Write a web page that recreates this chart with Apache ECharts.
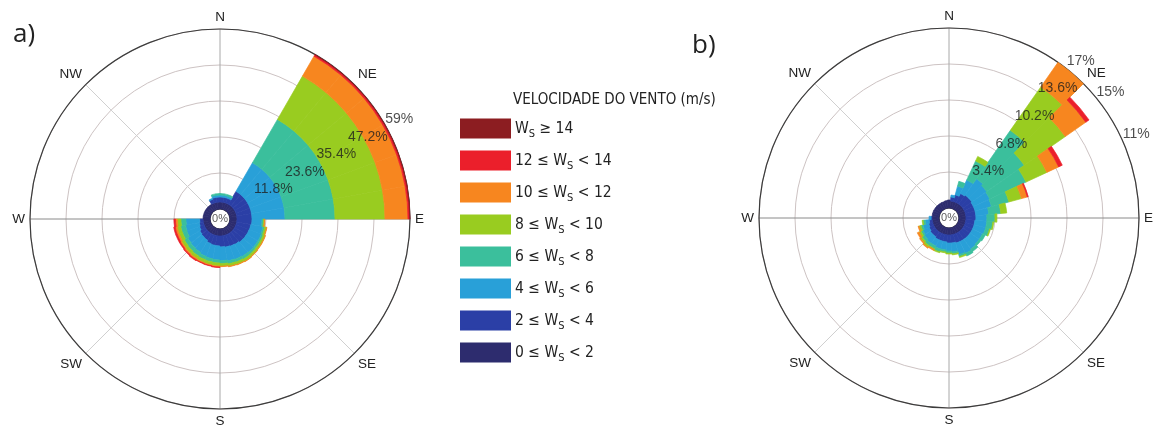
<!DOCTYPE html>
<html><head><meta charset="utf-8">
<script src="https://cdn.jsdelivr.net/npm/echarts@6/dist/echarts.min.js"></script>
<style>html,body{margin:0;padding:0;background:#fff}#c{width:1156px;height:427px}</style>
</head><body><div id="c"></div>
<script>
// ---------- data ----------
const directionLabels = ['N','NE','E','SE','S','SW','W','NW'];
const speedClasses = ['0 ≤ Ws < 2','2 ≤ Ws < 4','4 ≤ Ws < 6','6 ≤ Ws < 8','8 ≤ Ws < 10','10 ≤ Ws < 12','12 ≤ Ws < 14','Ws ≥ 14'];
const speedColors = ['#2d2c6e','#2b3fa6','#29a0d8','#3bbf9c','#99cc20','#f7861f','#eb1f2b','#8c1d21'];
const sectorNames = ['0','10','20','30','40','50','60','70','80','90','100','110','120','130','140','150','160','170','180','190','200','210','220','230','240','250','260','270','280','290','300','310','320','330','340','350'];

// chart a) frequency (%) per 10-degree sector, one array per speed class
const navyA   = [2.29,2.29,2.29,2.29,2.29,2.29,2.29,2.29,2.29,2.29,2.29,2.29,2.29,2.29,2.29,2.29,2.29,2.29,2.29,2.29,2.29,2.29,2.29,2.29,2.29,2.29,2.29,2.29,2.29,2.29,2.29,2.29,2.29,2.29,2.29,2.29];
const dblueA  = [1.64,1.64,1.64,4.92,4.92,4.92,4.92,4.92,4.92,4.92,4.70,4.59,4.50,4.40,4.10,3.94,3.80,3.60,3.28,3.20,3.00,2.50,2.30,2.10,1.60,1.32,1.10,0,0,0,0,0,0,1.31,1.64,1.64];
const mblueA  = [0.66,0.66,0.66,10.82,10.82,10.82,10.82,10.82,10.82,3.28,4.00,4.27,4.30,4.40,4.59,4.59,4.59,4.50,4.59,4.50,4.50,4.59,4.59,4.59,4.40,4.58,4.50,0,0,0,0,0,0,0.33,0.66,0.66];
const tealA   = [0.49,0.49,0.49,16.39,16.39,16.39,16.39,16.39,16.39,0.49,0.60,0.65,0.70,0.80,0.98,0.98,0.98,0.98,0.99,0.99,1.10,1.31,1.31,1.31,1.50,1.64,1.64,0,0,0,0,0,0,0,0.49,0.49];
const greenA  = [0,0,0,16.38,16.38,16.38,16.38,16.38,16.38,0.33,0.60,0.66,0.70,0.75,0.82,0.82,0.82,0.82,0.98,0.98,0.98,0.98,0.98,0.98,1.15,1.15,1.15,0,0,0,0,0,0,0,0,0];
const orangeA = [0,0,0,7.54,7.54,7.54,7.54,7.54,7.54,0.16,0.16,0.16,0.16,0.16,0.16,0.16,0.16,0.16,0.33,0.33,0.33,0.49,0.49,0.49,0.66,0.66,0.66,0,0,0,0,0,0,0,0,0];
const redA    = [0,0,0,0.56,0.56,0.56,0.56,0.56,0.56,0,0,0,0,0,0,0,0,0,0.16,0.16,0.16,0.33,0.33,0.33,0.49,0.49,0.49,0,0,0,0,0,0,0,0,0];
const dredA   = [0,0,0,0.10,0.10,0.10,0.10,0.10,0.10,0,0,0,0,0,0,0,0,0,0,0,0,0,0,0,0,0,0,0,0,0,0,0,0,0,0,0];

// chart b) frequency (%) per 10-degree sector (centred on multiples of 10 degrees)
const navyB   = [0.76,0.66,0.66,0.66,0.66,0.66,0.66,0.66,0.66,0.66,0.66,0.66,0.66,0.66,0.66,0.66,0.66,0.66,0.66,0.66,0.66,0.66,0.66,0.66,0.66,0.66,0.66,0.66,0.66,0.66,0.66,0.66,0.66,0.66,0.66,0.71];
const dblueB  = [0,0.38,0.66,0.94,1.04,1.04,0.94,0.94,0.94,0.94,0.85,0.85,0.85,0.85,0.85,0.85,0.85,0.76,0.76,0.66,0.66,0.66,0.57,0.57,0.47,0.38,0.28,0.09,0,0,0,0,0,0,0,0];
const mblueB  = [0,0.19,0.85,1.42,1.89,1.70,1.70,1.61,1.23,1.04,1.13,1.13,1.04,1.04,1.13,1.23,1.13,0.85,0.76,0.76,0.76,0.66,0.76,0.66,0.66,0.57,0.38,0.19,0,0,0,0,0,0,0,0];
const tealB   = [0,0,0.47,1.98,5.57,4.34,3.78,1.70,1.13,0.76,0.57,0.38,0.28,0.19,0.28,0.28,0.19,0.19,0.19,0.19,0.28,0.28,0.28,0.28,0.19,0.19,0.19,0,0,0,0,0,0,0,0,0];
const greenB  = [0,0,0,0.47,5.01,4.72,2.17,1.23,0.57,0.19,0.09,0.09,0,0,0,0,0.09,0.09,0.09,0.09,0.09,0.09,0.19,0.19,0.19,0.19,0.09,0,0,0,0,0,0,0,0,0];
const orangeB = [0,0,0,0,2.83,2.36,1.23,0.57,0,0,0,0,0,0,0,0,0,0,0,0,0,0.09,0.09,0.09,0.19,0.09,0,0,0,0,0,0,0,0,0,0];
const redB    = [0,0,0,0,0,0.38,0.38,0.09,0,0,0,0,0,0,0,0,0,0,0,0,0,0,0,0,0,0,0,0,0,0,0,0,0,0,0,0];
const dredB   = [0,0,0,0,0,0,0,0,0,0,0,0,0,0,0,0,0,0,0,0,0,0,0,0,0,0,0,0,0,0,0,0,0,0,0,0];

// radial ring labels
const ringValuesA = [0, 11.8, 23.6, 35.4, 47.2, 59];
const ringValuesB = [0, 3.4, 6.8, 10.2, 13.6, 17];
const extraLabelsB = [[17, 52, '15%'], [17, 66, '11%']];

// ---------- layout ----------
const centerA = [220, 219], centerB = [949, 218];
const ringRadius = [10, 190];
const labelAngleA = 61, labelAngleB = 40;
const NARROW = '"Liberation Sans Narrow","Arial Narrow","DejaVu Sans Condensed",sans-serif';
const SANS = '"Liberation Sans",Arial,sans-serif';

const seriesA = [navyA, dblueA, mblueA, tealA, greenA, orangeA, redA, dredA];
const seriesB = [navyB, dblueB, mblueB, tealB, greenB, orangeB, redB, dredB];

function gridAxes(polarIndex, maxR, step) {
  return {
    angle: {
      polarIndex, type: 'value', min: 0, max: 360, interval: 45, startAngle: 90, clockwise: true,
      axisLine: {show: true, lineStyle: {color: '#3c3c3c', width: 1.2}},
      axisTick: {show: false},
      axisLabel: {show: true, margin: 5, fontSize: 13.5, color: '#222', fontFamily: SANS,
        formatter: v => directionLabels[Math.round(v / 45) % 8]},
      splitLine: {show: true, lineStyle: {color: ['#a8a8a8','#d0d0d0','#8a8a8a','#d0d0d0','#a8a8a8','#d0d0d0','#8a8a8a','#d0d0d0'], width: 1}}
    },
    radius: {
      polarIndex, type: 'value', min: 0, max: maxR, interval: step,
      axisLine: {show: false}, axisTick: {show: false}, axisLabel: {show: false},
      splitLine: {show: true, lineStyle: {color: '#cdc3c3', width: 1}}
    }
  };
}
function barAxes(polarIndex, maxR, startAngle) {
  return {
    angle: {polarIndex, type: 'category', data: sectorNames, startAngle, clockwise: true, show: false,
      axisLine: {show: false}, axisTick: {show: false}, axisLabel: {show: false}, splitLine: {show: false}},
    radius: {polarIndex, type: 'value', min: 0, max: maxR, show: false,
      axisLine: {show: false}, axisTick: {show: false}, axisLabel: {show: false}, splitLine: {show: false}}
  };
}
const gA = gridAxes(0, 59, 11.8), bA = barAxes(1, 59, 90);
const gB = gridAxes(2, 17, 3.4), bB = barAxes(3, 17, 95);

function ringLabelSeries(polarIndex, values, angleDeg, extras) {
  const t = angleDeg * Math.PI / 180;
  const out = 15;
  const data = values.map(v => ({
    value: [v, angleDeg],
    name: v + '%',
    label: v === 0
      ? {offset: [-ringRadius[0] * Math.sin(t), ringRadius[0] * Math.cos(t)], fontSize: 11, color: '#333'}
      : {offset: [out * Math.sin(t), -out * Math.cos(t)]}
  }));
  (extras || []).forEach(e => {
    const a = e[1] * Math.PI / 180;
    data.push({value: [e[0], e[1]], name: e[2], label: {offset: [out * Math.sin(a), -out * Math.cos(a)]}});
  });
  return {
    type: 'scatter', coordinateSystem: 'polar', polarIndex, symbolSize: 0, z: 10, silent: true,
    label: {show: true, position: 'inside', formatter: p => p.name, fontSize: 14, color: '#1e1e1e', fontFamily: SANS},
    data
  };
}

function barSeries(name, k, polarIndex, stack, values) {
  return {type: 'bar', name, coordinateSystem: 'polar', polarIndex, stack,
    data: values.map(v => v === 0 ? '-' : v),
    barCategoryGap: '0%', barGap: '0%',
    itemStyle: {color: speedColors[k], borderColor: speedColors[k], borderWidth: 0.7},
    z: 3, silent: true};
}
const series = [];
speedClasses.forEach((name, k) => series.push(barSeries(name, k, 1, 'a', seriesA[k])));
speedClasses.forEach((name, k) => series.push(barSeries(name, k, 3, 'b', seriesB[k])));
series.push(ringLabelSeries(0, ringValuesA, labelAngleA));
series.push(ringLabelSeries(2, ringValuesB, labelAngleB, extraLabelsB));

const chart = echarts.init(document.getElementById('c'), null, {renderer: 'canvas'});
chart.setOption({
  animation: false,
  backgroundColor: '#fff',
  title: [
    {text: 'a)', left: 8, top: 17, textStyle: {fontSize: 26, fontWeight: 'normal', color: '#222', fontFamily: '"Open Sans",sans-serif'}},
    {text: 'b)', left: 687, top: 28, textStyle: {fontSize: 26, fontWeight: 'normal', color: '#222', fontFamily: '"Open Sans",sans-serif'}},
    {text: 'VELOCIDADE DO VENTO (m/s)', left: 508, top: 88, textStyle: {fontSize: 15, fontWeight: 'normal', color: '#222', fontFamily: NARROW}}
  ],
  legend: {
    orient: 'vertical', left: 455, top: 112, itemWidth: 49, itemHeight: 18, itemGap: 9,
    icon: 'rect', selectedMode: true,
    data: speedClasses.slice().reverse(),
    formatter: name => {
      const parts = name.split('Ws');
      return (parts[0] ? '{n|' + parts[0] + '}' : '') + '{n|W}{s|S}' + (parts[1] ? '{n|' + parts[1] + '}' : '');
    },
    textStyle: {
      color: '#222', fontFamily: NARROW, fontSize: 15.5,
      rich: {
        n: {fontSize: 15.5, fontFamily: NARROW, color: '#222', lineHeight: 18},
        s: {fontSize: 11, fontFamily: NARROW, color: '#222', padding: [12, 0, 0, 0], lineHeight: 12}
      }
    }
  },
  polar: [
    {center: centerA, radius: ringRadius},
    {center: centerA, radius: ringRadius},
    {center: centerB, radius: ringRadius},
    {center: centerB, radius: ringRadius}
  ],
  angleAxis: [gA.angle, bA.angle, gB.angle, bB.angle],
  radiusAxis: [gA.radius, bA.radius, gB.radius, bB.radius],
  series
});
</script></body></html>
